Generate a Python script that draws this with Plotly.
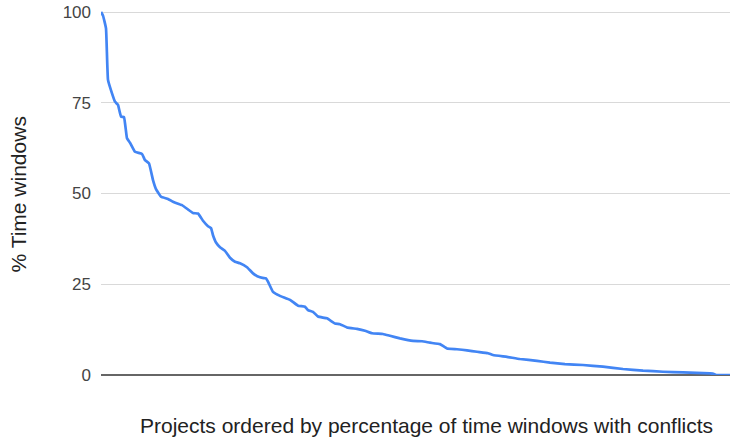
import plotly.graph_objects as go

# Project rank (ordered) and % of time windows with conflicts
project_rank = [0, 2, 5, 7, 11, 14, 17, 20, 23, 26, 29, 34, 41, 44, 48, 52, 55, 60, 67, 72,
                81, 87, 92, 97, 102, 107, 110, 112, 115, 119, 124, 129, 134, 139, 146, 152,
                159, 165, 167, 172, 179, 189, 197, 204, 207, 212, 217, 226, 234, 239, 246,
                256, 264, 271, 282, 289, 299, 312, 321, 329, 339, 346, 356, 366, 376, 387,
                392, 406, 419, 436, 449, 464, 482, 502, 522, 542, 562, 582, 609, 613, 615, 629]
pct_windows = [100, 99, 95.5, 81.3, 77.6, 75.3, 74.4, 71.2, 71, 65.2, 64, 61.5, 60.9, 59.2,
               58.3, 53.7, 51.2, 49.1, 48.5, 47.7, 46.8, 45.6, 44.6, 44.5, 42.5, 41, 40.5,
               38.5, 36.5, 35.2, 34.2, 32.3, 31.2, 30.8, 29.7, 28, 26.9, 26.6, 25.7, 22.9,
               21.8, 20.7, 19.1, 18.8, 17.9, 17.4, 16.1, 15.6, 14.2, 14, 13.1, 12.7, 12.2,
               11.5, 11.3, 10.8, 10.1, 9.4, 9.3, 8.9, 8.5, 7.3, 7.1, 6.8, 6.4, 6.0, 5.5,
               5.0, 4.4, 3.9, 3.4, 3.0, 2.75, 2.3, 1.65, 1.2, 0.9, 0.7, 0.45, 0.3, 0, 0]
y_ticks = [0, 25, 50, 75, 100]

FONT = "Liberation Sans, Arial, sans-serif"

fig = go.Figure()
fig.add_trace(go.Scatter(
    x=project_rank, y=pct_windows, mode="lines",
    line=dict(color="#4285F4", width=2.7, shape="spline", smoothing=0.3),
    hoverinfo="skip", showlegend=False,
))

fig.update_layout(
    width=730, height=439,
    margin=dict(l=101, r=0, t=10, b=64),
    paper_bgcolor="white", plot_bgcolor="white",
    font=dict(family=FONT, color="#444"),
    xaxis=dict(range=[0, 629], showticklabels=False, showgrid=False,
               zeroline=False, showline=False, ticks=""),
    yaxis=dict(range=[0, 100.55], tickvals=y_ticks, ticktext=[str(v) for v in y_ticks],
               tickfont=dict(size=17, color="#444", family=FONT),
               showgrid=True, gridcolor="#d9d9d9", gridwidth=1,
               zeroline=True, zerolinecolor="#666", zerolinewidth=1.5,
               showline=False, ticks="", ticklabelstandoff=9,
               ticklabeloverflow="allow"),
    annotations=[
        dict(text="Projects ordered by percentage of time windows with conflicts",
             xref="paper", yref="paper", x=0.518, y=0, xanchor="center", yanchor="middle",
             yshift=-50, showarrow=False, font=dict(size=21, color="#222", family=FONT)),
        dict(text="% Time windows", textangle=-90,
             xref="paper", yref="paper", x=0, y=0.5, xanchor="center", yanchor="middle",
             xshift=-83, yshift=-2, showarrow=False, font=dict(size=21, color="#222", family=FONT)),
    ],
)

fig.write_html("out.html", config={"displayModeBar": False},
               post_script="document.body.style.margin='0px';")
